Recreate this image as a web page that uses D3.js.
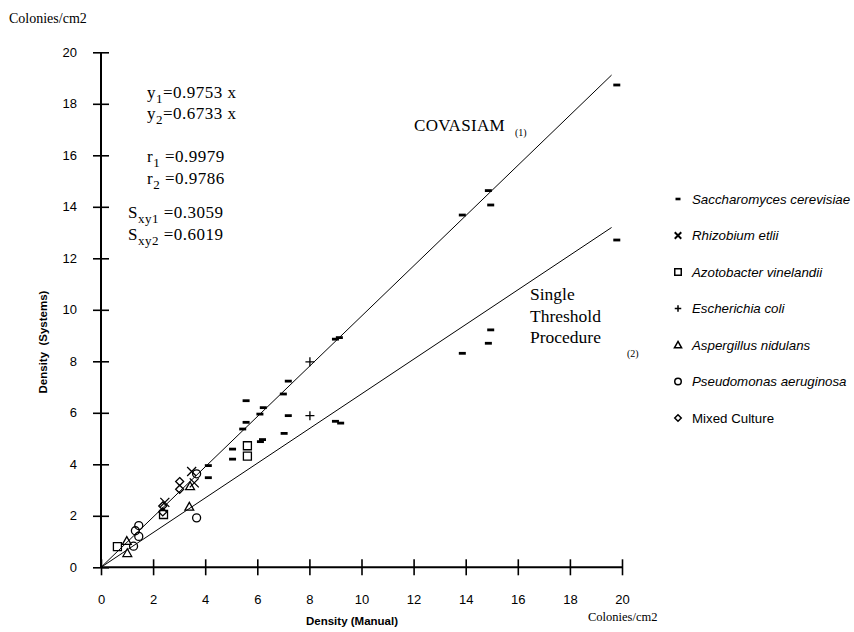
<!DOCTYPE html>
<html>
<head>
<meta charset="utf-8">
<script src="https://cdn.jsdelivr.net/npm/d3@7"></script>
<style>
body{margin:0;background:#fff}
.serif{font-family:"Liberation Serif","Times New Roman",serif}
.sans{font-family:"Liberation Sans",Arial,sans-serif}
</style>
</head>
<body>
<svg id="chart" width="854" height="632"></svg>
<script>
// values: [manual, system] colonies/cm2
const saccharomyces = [[19.8,18.73],[19.8,12.71],[14.87,14.63],[14.96,14.07],[13.87,13.68],[14.96,9.22],[14.87,8.70],[13.87,8.31],
  [9.0,8.86],[9.15,8.92],[7.19,7.23],[7.0,6.73],[5.57,6.47],[6.23,6.2],[6.1,5.95],[5.57,5.63],[5.44,5.37],[7.19,5.89],[7.03,5.2],
  [9.0,5.67],[9.2,5.6],[6.2,4.96],[6.12,4.88],[5.05,4.59],[5.05,4.2],[4.12,3.95],[4.12,3.48]];
const rhizobium = [[2.45,2.52],[3.48,3.72],[3.58,3.28]];
const azotobacter = [[0.63,0.8],[2.4,2.05],[5.62,4.72],[5.62,4.32]];
const ecoli = [[8.02,7.98],[8.02,5.89]];
const aspergillus = [[0.99,1.02],[1.01,0.55],[3.42,3.15],[3.39,2.35]];
const pseudomonas = [[1.45,1.62],[1.32,1.42],[1.45,1.2],[1.25,0.82],[3.67,3.63],[3.67,1.92]];
const mixed = [[3.02,3.33],[3.02,3.03],[2.37,2.38],[2.37,2.15]];

const seriesNames = ['Saccharomyces cerevisiae','Rhizobium etlii','Azotobacter vinelandii','Escherichia coli','Aspergillus nidulans','Pseudomonas aeruginosa','Mixed Culture'];
const seriesData = [saccharomyces,rhizobium,azotobacter,ecoli,aspergillus,pseudomonas,mixed];
const slopes = [0.9753,0.6733];
const lineEnd = 19.6;
const tickValues = [0,2,4,6,8,10,12,14,16,18,20];
const statLines = [['y','1','=0.9753 x'],['y','2','=0.6733 x'],['r','1',' =0.9979'],['r','2',' =0.9786'],['S','xy1',' =0.3059'],['S','xy2',' =0.6019']];

const symbols = ['dash','times','square','plus','triangle','circle','diamond'];
const italic = [true,true,true,true,true,true,false];

let svg = d3.select('#chart'),
    margin = {top: 52.3, left: 101},
    width = 521,
    height = 515;

let x = d3.scaleLinear().domain([0,20]).range([margin.left, margin.left+width]),
    y = d3.scaleLinear().domain([0,20]).range([margin.top+height, margin.top]);

const shape = (type, s) => {
  let h = s/2;
  if (type==='square') return 'M'+(-h)+','+(-h)+'H'+h+'V'+h+'H'+(-h)+'Z';
  if (type==='triangle') return 'M0,'+(-h*1.1)+'L'+(h*1.1)+','+(h*0.85)+'L'+(-h*1.1)+','+(h*0.85)+'Z';
  if (type==='diamond') return 'M0,'+(-h)+'L'+h+',0L0,'+h+'L'+(-h)+',0Z';
  if (type==='times') return 'M'+(-h)+','+(-h)+'L'+h+','+h+'M'+h+','+(-h)+'L'+(-h)+','+h;
  if (type==='plus') return 'M'+(-h)+',0H'+h+'M0,'+(-h)+'V'+h;
  if (type==='circle') return d3.symbol(d3.symbolCircle, Math.PI*h*h)();
  return 'M'+(-h)+',-1.4H'+h+'V1.4H'+(-h)+'Z';
}

// fitted lines
svg.append('g').selectAll('line')
  .data(slopes)
  .enter().append('line')
  .attr('x1', x(0)).attr('y1', y(0))
  .attr('x2', x(lineEnd)).attr('y2', d => y(d*lineEnd))
  .attr('stroke','#000').attr('stroke-width',1);

// axes
svg.append('g')
  .attr('transform','translate('+margin.left+',0)')
  .call(d3.axisLeft(y).tickValues(tickValues).tickSize(8).tickPadding(16))
  .call(g => g.select('.domain').attr('stroke-width',2).attr('d','M0,'+y(0)+'V'+y(20)))
  .call(g => g.selectAll('.tick line').attr('x1',-8).attr('x2',8).attr('stroke-width',1.6))
  .call(g => g.selectAll('.tick text').attr('class','sans').attr('font-size',13).attr('fill','#000'));

svg.append('g')
  .attr('transform','translate(0,'+(margin.top+height)+')')
  .call(d3.axisBottom(x).tickValues(tickValues).tickSize(8).tickPadding(19))
  .call(g => g.select('.domain').attr('stroke-width',2).attr('d','M'+x(0)+',0H'+x(20)))
  .call(g => g.selectAll('.tick line').attr('y1',-8).attr('y2',8).attr('stroke-width',1.6))
  .call(g => g.selectAll('.tick text').attr('class','sans').attr('font-size',13).attr('fill','#000'));

// points
seriesData.forEach((data,i)=>{
  let dash = symbols[i]==='dash';
  svg.append('g').selectAll('path')
    .data(data)
    .enter().append('path')
    .attr('transform', d => 'translate('+x(d[0])+','+y(d[1])+')')
    .attr('d', shape(symbols[i], dash ? 7 : (symbols[i]==='plus'||symbols[i]==='times' ? 9 : 8)))
    .attr('fill', dash ? '#000' : 'none')
    .attr('stroke', dash ? 'none' : '#000')
    .attr('stroke-width', 1.3);
})

// legend
let legend = svg.append('g').selectAll('g')
  .data(seriesNames)
  .enter().append('g')
  .attr('transform', (d,i) => 'translate(678,'+(199+i*36.5)+')');

legend.append('path')
  .attr('d', (d,i) => symbols[i]==='dash' ? 'M-2.5,-1.3H2.5V1.3H-2.5Z' : shape(symbols[i], 6.5))
  .attr('fill', (d,i) => symbols[i]==='dash' ? '#000' : 'none')
  .attr('stroke', (d,i) => symbols[i]==='dash' ? 'none' : '#000')
  .attr('stroke-width', (d,i) => symbols[i]==='times' ? 2 : 1.5);

legend.append('text')
  .attr('class','sans')
  .attr('x',14).attr('y',4.5)
  .attr('font-size',13.3)
  .attr('font-style', (d,i) => italic[i] ? 'italic' : 'normal')
  .text(d => d);

// statistics block
const statPos = [[147,98],[147,119],[147,162],[147,184],[128,218],[128,240]];
statLines.forEach((s,i)=>{
  let t = svg.append('text').attr('class','serif').attr('font-size',17).attr('letter-spacing',0.5)
    .attr('x',statPos[i][0]).attr('y',statPos[i][1]);
  t.append('tspan').text(s[0]);
  t.append('tspan').attr('dy',5).attr('font-size',13).text(s[1]);
  t.append('tspan').attr('dy',-5).attr('xml:space','preserve').text(s[2]);
})

// line labels
svg.append('text').attr('class','serif').attr('font-size',17).attr('letter-spacing',0.3).attr('x',414).attr('y',131).text('COVASIAM');
svg.append('text').attr('class','serif').attr('font-size',10).attr('x',515).attr('y',136).text('(1)');
['Single','Threshold','Procedure'].forEach((w,i)=>{
  svg.append('text').attr('class','serif').attr('font-size',17.5).attr('x',530).attr('y',300+i*21.5).text(w);
})
svg.append('text').attr('class','serif').attr('font-size',10).attr('x',627).attr('y',357).text('(2)');

// axis titles and units
svg.append('text').attr('class','serif').attr('font-size',14).attr('x',9).attr('y',23).text('Colonies/cm2');
svg.append('text').attr('class','serif').attr('font-size',12.5).attr('x',588).attr('y',621).text('Colonies/cm2');
svg.append('text').attr('class','sans').attr('font-size',11.5).attr('font-weight','bold')
  .attr('text-anchor','middle').attr('x',352).attr('y',625).text('Density (Manual)');
svg.append('text').attr('class','sans').attr('font-size',11.5).attr('font-weight','bold')
  .attr('text-anchor','middle').attr('transform','translate(47,342) rotate(-90)')
  .attr('xml:space','preserve').text('Density  (Systems)');
</script>
</body>
</html>
